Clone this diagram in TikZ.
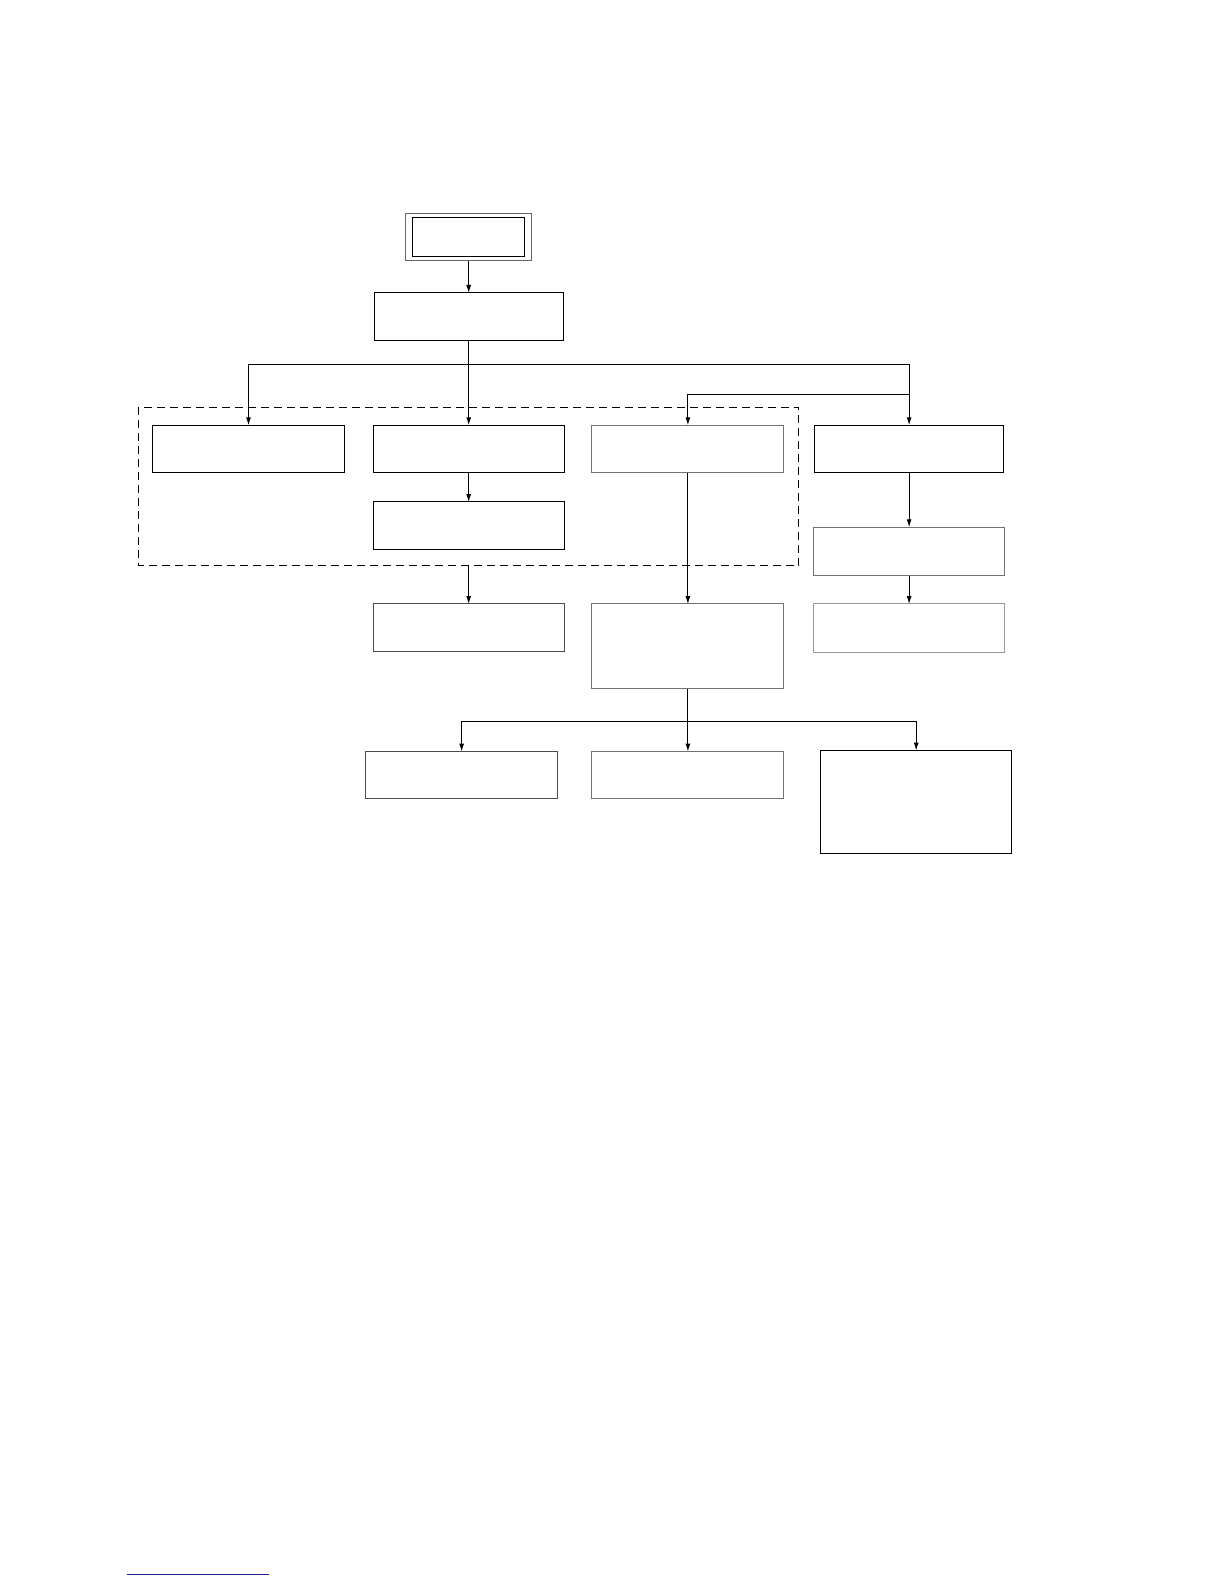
\documentclass[tikz,border=0pt]{standalone}
\usetikzlibrary{arrows.meta}
\begin{document}
\begin{tikzpicture}[x=1pt,y=-1pt,
  box/.style={draw=black,line width=1pt,rectangle,inner sep=0pt,outer sep=0pt},
  gbox/.style={box,draw=black!55},
  arr/.style={line width=1pt,-{Latex[length=8pt,width=5pt]}},
  ln/.style={line width=1pt}]
\useasboundingbox[fill=white] (0,0) rectangle (1224,1584);
\begin{scope}[scale=1.01,transform shape]
% top double box
\node[box,draw=black!60,minimum width=125pt,minimum height=47pt] (top) at (464,234.5) {};
\node[box,minimum width=111pt,minimum height=38pt] (topin) at (464,234.5) {};
\node[box,minimum width=187pt,minimum height=47pt] (A) at (464,313.5) {};
% dashed group
\draw[line width=1pt,dash pattern=on 8pt off 5pt] (137,403) rectangle (791,560);
\coordinate (gb) at (464,560);
% row 1
\node[box,minimum width=190pt,minimum height=47pt] (B1) at (246,444.5) {};
\node[box,minimum width=189pt,minimum height=47pt] (B2) at (464,444.5) {};
\node[gbox,minimum width=190pt,minimum height=47pt] (B3) at (681,444.5) {};
\node[box,minimum width=187pt,minimum height=47pt] (B4) at (900,444.5) {};
\node[box,minimum width=189pt,minimum height=47pt] (B5) at (464,520.5) {};
% row 2
\node[box,draw=black!70,minimum width=189pt,minimum height=47pt] (C1) at (464,621.5) {};
\node[gbox,minimum width=190pt,minimum height=84pt] (C2) at (681,640) {};
\node[gbox,minimum width=189pt,minimum height=48pt] (D1) at (900,546) {};
\node[box,draw=black!40,minimum width=190pt,minimum height=48pt] (D2) at (900,622) {};
% row 3
\node[box,draw=black!70,minimum width=190pt,minimum height=47pt] (E1) at (457,767.5) {};
\node[gbox,minimum width=190pt,minimum height=47pt] (E2) at (681,767.5) {};
\node[box,minimum width=189pt,minimum height=102pt] (E3) at (907,794) {};
% connectors
\draw[arr] (top.south) -- (A.north);
\coordinate (h1) at (464,361);
\draw[ln] (A.south) -- (h1);
\draw[arr] (h1) -| (B1.north);
\draw[arr] (h1) -- (B2.north);
\draw[arr] (h1) -| (B4.north);
\coordinate (h2) at (900,391);
\draw[arr] (h2) -| (B3.north);
\draw[arr] (B2.south) -- (B5.north);
\draw[arr] (gb) -- (C1.north);
\draw[arr] (B3.south) -- (C2.north);
\draw[arr] (B4.south) -- (D1.north);
\draw[arr] (D1.south) -- (D2.north);
\coordinate (h3) at (681,714);
\draw[ln] (C2.south) -- (h3);
\draw[arr] (h3) -| (E1.north);
\draw[arr] (h3) -- (E2.north);
\draw[arr] (h3) -| (E3.north);
% footnote rule
\draw[line width=1pt,color={rgb,255:red,30;green,30;blue,140}] (126,1559) -- (266,1559);
\end{scope}
\end{tikzpicture}
\end{document}
